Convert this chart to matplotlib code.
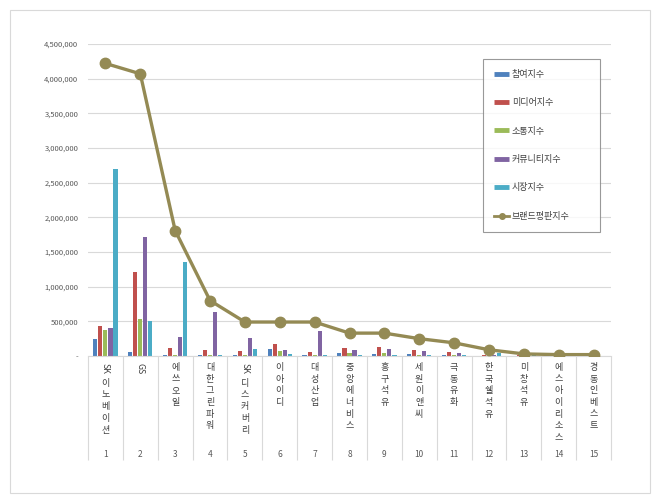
import matplotlib.pyplot as plt
import matplotlib.transforms as mtransforms
from matplotlib.lines import Line2D
from matplotlib.patches import Rectangle
import numpy as np

plt.rcParams['font.family'] = ['Noto Sans CJK KR', 'DejaVu Sans']

# 데이터
ranks = [str(i) for i in range(1, 16)]
companies = ["SK이노베이션", "GS", "에쓰오일", "대한그린파워", "SK디스커버리", "이아이디",
             "대성산업", "중앙에너비스", "흥구석유", "세원이앤씨", "극동유화", "한국쉘석유",
             "미창석유", "에스아이리소스", "경동인베스트"]
series_names = ["참여지수", "미디어지수", "소통지수", "커뮤니티지수", "시장지수"]
participation = [240000, 60000, 10000, 20000, 20000, 97000, 10000, 40000, 30000, 30000, 20000, 5000, 5000, 3000, 3000]
media = [430000, 1210000, 120000, 80000, 70000, 173000, 60000, 120000, 130000, 90000, 60000, 10000, 10000, 4000, 3000]
communication = [370000, 540000, 20000, 15000, 15000, 72000, 15000, 40000, 40000, 20000, 20000, 5000, 5000, 3000, 2000]
community = [410000, 1720000, 280000, 640000, 260000, 82000, 360000, 80000, 100000, 70000, 50000, 15000, 5000, 3000, 2000]
market = [2700000, 510000, 1350000, 15000, 100000, 29000, 20000, 10000, 10000, 10000, 10000, 40000, 10000, 3000, 2000]
brand = [4220000, 4070000, 1810000, 800000, 490000, 490000, 490000, 330000, 330000, 250000, 190000, 90000, 30000, 20000, 20000]

bar_colors = ["#4F81BD", "#C0504D", "#9BBB59", "#8064A2", "#4BACC6"]
line_color = "#948A54"

fig = plt.figure(figsize=(6.6, 5.03), dpi=100)
ax = fig.add_axes([88 / 660, 1 - 356 / 503, (611 - 88) / 660, (356 - 44) / 503])

# 바깥 테두리
fig.patches.append(Rectangle((10 / 660, 10 / 503), 640 / 660, 483 / 503, transform=fig.transFigure,
                             fill=False, edgecolor="#d9d9d9", linewidth=0.8))

x = np.arange(len(companies))
width = 0.118
step = 0.145
for i, (vals, col) in enumerate(zip([participation, media, communication, community, market], bar_colors)):
    ax.bar(x + (i - 2) * step, vals, width=width, color=col, zorder=2)

ax.plot(x, brand, color=line_color, linewidth=2.4, marker='o', markersize=7.5, zorder=3)

ax.set_xlim(-0.5, len(companies) - 0.5)
ax.set_ylim(0, 4500000)
yt = np.arange(0, 4500001, 500000)
ax.set_yticks(yt)
ax.set_yticklabels(["-" if v == 0 else f"{v:,}" for v in yt], fontsize=5.5, color="#595959")
ax.tick_params(axis='y', length=0, pad=7)
ax.set_xticks([])
ax.grid(axis='y', color="#d9d9d9", linewidth=0.8, zorder=0)
for s in ["left", "right", "top"]:
    ax.spines[s].set_visible(False)
ax.spines["bottom"].set_color("#d9d9d9")
ax.spines["bottom"].set_linewidth(0.8)

# 카테고리 구분선
trans = mtransforms.blended_transform_factory(ax.transData, ax.transAxes)
bounds = np.arange(len(companies) + 1) - 0.5
ax.vlines(bounds, -104 / 312, 0, transform=trans, color="#d9d9d9", linewidth=0.8, clip_on=False)

# 세로 라벨 (한글은 세로로 쌓고, 영문은 회전)
for xi, name, r in zip(x, companies, ranks):
    prefix = ""
    rest = name
    while rest and rest[0].isascii():
        prefix += rest[0]
        rest = rest[1:]
    off = -5
    if prefix:
        ax.annotate(prefix, (xi, 0), xycoords=trans, xytext=(0, off), textcoords="offset points",
                    rotation=-90, ha='center', va='top', fontsize=6.3, color="#404040")
        off -= 5.3 * len(prefix) + 1
    for ch in rest:
        ax.annotate(ch, (xi, 0), xycoords=trans, xytext=(0, off), textcoords="offset points",
                    ha='center', va='top', fontsize=6.5, color="#404040")
        off -= 8.4
    ax.annotate(r, (xi, 0), xycoords=trans, xytext=(0, -71), textcoords="offset points",
                ha='center', va='center', fontsize=6, color="#595959")

# 범례
handles = [Line2D([0], [0], color=c, linewidth=3.5, solid_capstyle='butt') for c in bar_colors]
handles.append(Line2D([0], [0], color=line_color, linewidth=2, marker='o', markersize=4))
leg = fig.legend(handles, series_names + ["브랜드평판지수"], loc='upper left',
                 bbox_to_anchor=(483 / 660, 1 - 233 / 503, 117 / 660, 174 / 503), mode='expand',
                 fontsize=6.5, frameon=True, fancybox=False, edgecolor="#808080",
                 labelspacing=2.15, handlelength=1.7, handletextpad=0.3, borderpad=1.2,
                 borderaxespad=0)
leg.get_frame().set_linewidth(0.8)
for t in leg.get_texts():
    t.set_color("#404040")

fig.savefig("out.png", dpi=100)
